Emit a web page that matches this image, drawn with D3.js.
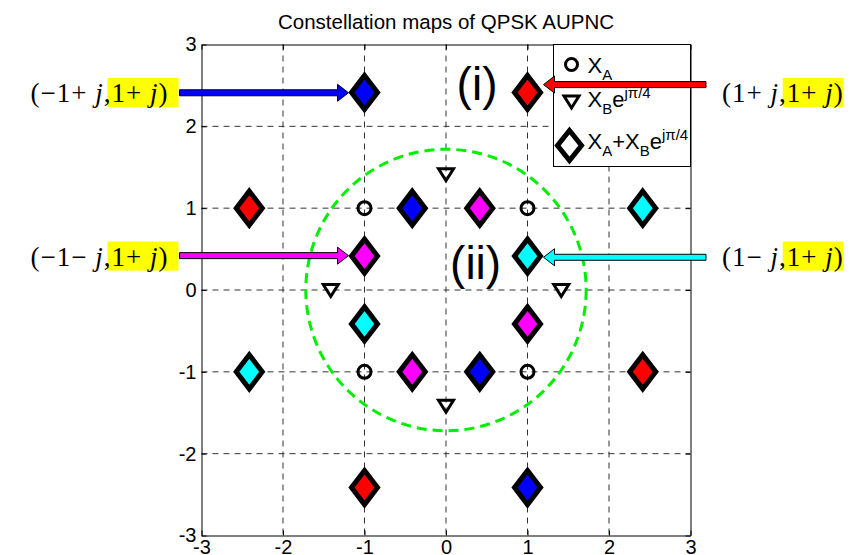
<!DOCTYPE html>
<html>
<head>
<meta charset="utf-8">
<script src="https://cdn.jsdelivr.net/npm/d3@7"></script>
<style>
  body { margin: 0; background: #fff; }
  svg { display: block; font-family: "Liberation Sans", Arial, sans-serif; }
  .pair { font-family: "Liberation Serif", "Times New Roman", serif; white-space: pre; }
</style>
</head>
<body>
<svg class="chart" width="853" height="555"></svg>
<script>
// tick values shared by both axes
const ticks = [-3, -2, -1, 0, 1, 2, 3];

// X_A : QPSK points
const xaRe = [-1, 1, -1, 1];
const xaIm = [1, 1, -1, -1];

// X_B e^{j pi/4}
const xbRe = [0, -1.414, 1.414, 0];
const xbIm = [1.414, 0, 0, -1.414];

// X_A + X_B e^{j pi/4}, coloured by the X_B symbol
const sumRe = [-1, 1, -2.414, -0.414, 0.414, 2.414, -1, 1, -1, 1, -2.414, -0.414, 0.414, 2.414, -1, 1];
const sumIm = [2.414, 2.414, 1, 1, 1, 1, 0.414, 0.414, -0.414, -0.414, -1, -1, -1, -1, -2.414, -2.414];
const sumColour = ['#0000ff', '#ff0000', '#ff0000', '#0000ff', '#ff00ff', '#00ffff', '#ff00ff', '#00ffff',
    '#00ffff', '#ff00ff', '#00ffff', '#ff00ff', '#0000ff', '#ff0000', '#ff0000', '#0000ff'];

// radius of the dashed region (ii)
const innerRadius = 1.72;

// arrows pointing at the labelled points
const pairLabels = ['(\u22121+ j,1+ j)', '(1+ j,1+ j)', '(\u22121\u2212 j,1+ j)', '(1\u2212 j,1+ j)'];
const pairRe = [-1, 1, -1, 1];
const pairIm = [2.414, 2.414, 0.414, 0.414];
const arrowRow = [2.41, 2.51, 0.42, 0.40];
const arrowTail = [-3.27, 3.19, -3.27, 3.19];
const arrowColour = ['#0000ff', '#ff0000', '#ff00ff', '#00ffff'];

var margins = { top: 44.5, right: 162.5, bottom: 19.5, left: 201.5 };

var svg = d3.select('.chart');
const width = svg.attr('width') - margins.left - margins.right;
const height = svg.attr('height') - margins.top - margins.bottom;

var g = svg.append('g')
    .attr('transform', 'translate(' + margins.left + ',' + margins.top + ')');

var x = d3.scaleLinear().domain([-3, 3]).range([0, width]);
var y = d3.scaleLinear().domain([-3, 3]).range([height, 0]);

// title
svg.append('text')
    .attr('x', margins.left + width / 2)
    .attr('y', 28.5)
    .attr('text-anchor', 'middle')
    .style('font-size', '20.5px')
    .text('Constellation maps of QPSK AUPNC');

// dashed grid
var inner = ticks.slice(1, -1);
g.selectAll('.gx').data(inner).enter().append('line')
    .attr('x1', d => x(d)).attr('x2', d => x(d))
    .attr('y1', 0).attr('y2', height)
    .attr('stroke', '#333').attr('stroke-dasharray', '6,5');
g.selectAll('.gy').data(inner).enter().append('line')
    .attr('y1', d => y(d)).attr('y2', d => y(d))
    .attr('x1', 0).attr('x2', width)
    .attr('stroke', '#333').attr('stroke-dasharray', '6,5');

// axes, ticks inside like matlab
var fmt = d => String(d);
g.append('g').attr('class', 'axis')
    .attr('transform', 'translate(0,' + height + ')')
    .call(d3.axisBottom(x).tickValues(ticks).tickSize(-5).tickSizeOuter(0).tickPadding(4).tickFormat(fmt));
g.append('g').attr('class', 'axis')
    .call(d3.axisLeft(y).tickValues(ticks).tickSize(-5).tickSizeOuter(0).tickPadding(5).tickFormat(fmt));
g.append('g').attr('class', 'axis')
    .call(d3.axisTop(x).tickValues(ticks).tickSize(-5).tickSizeOuter(0).tickFormat(''));
g.append('g').attr('class', 'axis')
    .attr('transform', 'translate(' + width + ',0)')
    .call(d3.axisRight(y).tickValues(ticks).tickSize(-5).tickSizeOuter(0).tickFormat(''));

svg.selectAll('.axis text').style('font-size', '20px').style('font-family', '"Liberation Sans", Arial, sans-serif').attr('fill', '#000');
svg.selectAll('.axis path, .axis line').attr('stroke', '#000');

// region (ii) boundary
g.append('ellipse')
    .attr('cx', x(0)).attr('cy', y(0))
    .attr('rx', x(innerRadius) - x(0))
    .attr('ry', y(0) - y(innerRadius))
    .attr('fill', 'none')
    .attr('stroke', '#00ee00')
    .attr('stroke-width', 3)
    .attr('stroke-dasharray', '10,6');

// markers
const circleR = 6.5;
const triPath = 'M-7.5,-5.5L7.5,-5.5L0,6.5Z';
const diaPath = 'M0,-17L13,0L0,17L-13,0Z';

g.selectAll('.xa').data(xaRe).enter().append('circle')
    .attr('cx', (d, i) => x(d))
    .attr('cy', (d, i) => y(xaIm[i]))
    .attr('r', circleR)
    .attr('fill', 'none').attr('stroke', '#000').attr('stroke-width', 3);

g.selectAll('.xb').data(xbRe).enter().append('path')
    .attr('d', triPath)
    .attr('transform', (d, i) => 'translate(' + x(d) + ',' + y(xbIm[i]) + ')')
    .attr('fill', 'none').attr('stroke', '#000').attr('stroke-width', 3);

g.selectAll('.sum').data(sumRe).enter().append('path')
    .attr('d', diaPath)
    .attr('transform', (d, i) => 'translate(' + x(d) + ',' + y(sumIm[i]) + ')')
    .attr('fill', (d, i) => sumColour[i])
    .attr('stroke', '#000').attr('stroke-width', 5).attr('stroke-linejoin', 'miter');

// region labels
g.append('text').attr('x', x(0.13)).attr('y', y(2.32))
    .style('font-size', '46px').text('(i)');
g.append('text').attr('x', x(0.05)).attr('y', y(0.14))
    .style('font-size', '46px').text('(ii)');

// legend
var lg = svg.append('g').attr('transform', 'translate(553.5,44.5)');
lg.append('rect').attr('width', 137).attr('height', 122)
    .attr('fill', '#fff').attr('stroke', '#000');
lg.append('circle').attr('cx', 18).attr('cy', 20).attr('r', 6)
    .attr('fill', 'none').attr('stroke', '#000').attr('stroke-width', 3);
lg.append('path').attr('d', triPath).attr('transform', 'translate(18,57)')
    .attr('fill', 'none').attr('stroke', '#000').attr('stroke-width', 3);
lg.append('path').attr('d', 'M0,-15L12,0L0,15L-12,0Z').attr('transform', 'translate(16,101)')
    .attr('fill', 'none').attr('stroke', '#000').attr('stroke-width', 5);

function legendText(row, parts) {
    var t = lg.append('text').attr('x', 34).attr('y', row).style('font-size', '22px');
    var shift = 0;
    parts.forEach(p => {
        var want = p[1] === 'sub' ? 7 : p[1] === 'sup' ? -9 : 0;
        t.append('tspan').attr('dy', want - shift)
            .style('font-size', p[1] ? '15px' : '22px').text(p[0]);
        shift = want;
    });
}
legendText(28, [['X'], ['A', 'sub']]);
legendText(62, [['X'], ['B', 'sub'], ['e'], ['j\u03c0/4', 'sup']]);
legendText(104, [['X'], ['A', 'sub'], ['+X'], ['B', 'sub'], ['e'], ['j\u03c0/4', 'sup']]);

// arrows with the (X_A, X_B) pair labels, drawn over the legend
var ann = svg.append('g')
    .attr('transform', 'translate(' + margins.left + ',' + margins.top + ')');

function arrowPath(x0, x1, yc) {
    var s = x1 > x0 ? 1 : -1, L = 11, H = 8.5, b = 3;
    var xb = x1 - s * L;
    return 'M' + x0 + ',' + (yc - b) + 'L' + xb + ',' + (yc - b) + 'L' + xb + ',' + (yc - H) +
        'L' + x1 + ',' + yc + 'L' + xb + ',' + (yc + H) + 'L' + xb + ',' + (yc + b) +
        'L' + x0 + ',' + (yc + b) + 'Z';
}

pairLabels.forEach((lab, i) => {
    var tail = x(arrowTail[i]);
    var left = arrowTail[i] < pairRe[i];
    var tip = x(pairRe[i]) + (left ? -16 : 16);
    var yc = y(arrowRow[i]);
    ann.append('path')
        .attr('d', arrowPath(tail, tip, yc))
        .attr('fill', arrowColour[i]).attr('stroke', '#000').attr('stroke-width', 1);

    var ly = y(pairIm[i]);
    var t = ann.append('text').attr('class', 'pair')
        .attr('x', left ? tail - 11 : tail + 16)
        .attr('y', ly + 9.5)
        .attr('text-anchor', left ? 'end' : 'start')
        .style('font-size', '27px')
        .style('letter-spacing', '1px');
    lab.split(/(j)/).forEach(part => {
        if (part === '') return;
        t.append('tspan').style('font-style', part === 'j' ? 'italic' : 'normal').text(part);
    });
    var node = t.node();
    var k = lab.indexOf(',') + 1;
    var x0 = node.getStartPositionOfChar(k).x;
    var x1 = node.getEndPositionOfChar(lab.length - 1).x;
    ann.insert('rect', '.pair')
        .attr('x', x0 - 4).attr('y', ly - 14.5)
        .attr('width', x1 - x0 + (left ? 14 : 4)).attr('height', 29)
        .attr('fill', '#ffff00');
});
</script>
</body>
</html>
